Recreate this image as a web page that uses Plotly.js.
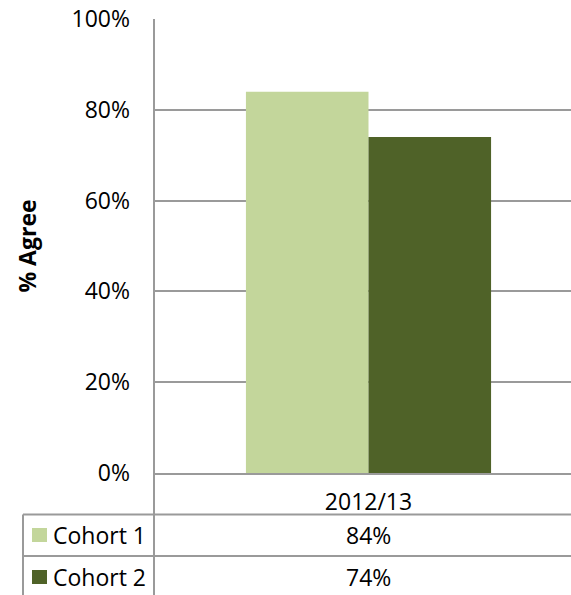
<!DOCTYPE html>
<html>
<head>
<meta charset="utf-8">
<script src="https://cdn.plot.ly/plotly-3.0.1.min.js"></script>
<style>html,body{margin:0;padding:0;background:#fff;}#chart{width:571px;height:595px;}</style>
</head>
<body>
<div id="chart"></div>
<script>
// Data
const categories = ['2012/13'];
const seriesNames = ['Cohort 1', 'Cohort 2'];
const cohort1 = [0.84];
const cohort2 = [0.74];
const seriesValues = [cohort1, cohort2];
const seriesColors = ['#C3D69B', '#4F6228'];
const yTickVals = [0, 0.2, 0.4, 0.6, 0.8, 1.0];
const yTickText = ['0%', '20%', '40%', '60%', '80%', '100%'];

// Layout geometry (pixels)
const W = 571, H = 595;
const L = 154, T = 19, B = 122;
const plotW = W - L, plotH = H - T - B;
const px = x => (x - L) / plotW;
const py = y => (H - B - y) / plotH;
const FONT = 'Open Sans, Liberation Sans, sans-serif';
const FS = 23;
const GRID = '#9a9a9a';

const barW = 0.2857;
const traces = seriesNames.map((name, i) => ({
  type: 'bar',
  name: name,
  x: categories,
  y: seriesValues[i],
  width: categories.map(() => barW),
  offset: categories.map(() => (i === 0 ? -barW : 0)),
  marker: {color: seriesColors[i], line: {width: 0}},
  hoverinfo: 'none'
}));

const shapes = [];
const annotations = [];
const lineStyle = {color: GRID, width: 2};
// table horizontal lines
const rowLines = [514.5, 556];
rowLines.forEach(y => shapes.push({type: 'line', xref: 'paper', yref: 'paper', x0: px(23), x1: px(W + 5), y0: py(y), y1: py(y), line: lineStyle}));
// vertical lines
shapes.push({type: 'line', xref: 'paper', yref: 'paper', x0: px(23), x1: px(23), y0: py(514.5), y1: py(H + 5), line: lineStyle});
shapes.push({type: 'line', xref: 'paper', yref: 'paper', x0: 0, x1: 0, y0: 1, y1: py(H + 5), line: lineStyle});

const rowCenters = [535, 577];
seriesNames.forEach((name, i) => {
  const yc = rowCenters[i];
  shapes.push({type: 'rect', xref: 'paper', yref: 'paper', x0: px(32), x1: px(47), y0: py(yc - 7), y1: py(yc + 7), fillcolor: seriesColors[i], line: {width: 0}});
  annotations.push({xref: 'paper', yref: 'paper', x: px(51), y: py(yc), xanchor: 'left', yanchor: 'middle', text: name, showarrow: false, font: {family: FONT, size: FS, color: '#000'}});
  categories.forEach((c, j) => {
    annotations.push({xref: 'x', yref: 'paper', x: c, y: py(yc), xanchor: 'center', yanchor: 'middle', text: Math.round(seriesValues[i][j] * 100) + '%', showarrow: false, font: {family: FONT, size: FS, color: '#000'}});
  });
});

const layout = {
  width: W, height: H,
  margin: {l: L, r: 0, t: T, b: B, pad: 0},
  paper_bgcolor: '#fff', plot_bgcolor: '#fff',
  showlegend: false,
  barmode: 'group',
  font: {family: FONT, size: FS, color: '#000'},
  xaxis: {
    type: 'category',
    range: [-0.5, 0.5 - 12 / 429],
    showgrid: false,
    showline: true, linecolor: GRID, linewidth: 2,
    ticks: '',
    ticklabelstandoff: 7,
    tickfont: {family: FONT, size: FS, color: '#000'},
    fixedrange: true
  },
  yaxis: {
    range: [0, 1],
    tickvals: yTickVals,
    ticktext: yTickText,
    showgrid: true, gridcolor: GRID, gridwidth: 2,
    showline: false,
    zeroline: false,
    ticks: '',
    ticklabelstandoff: 23,
    tickfont: {family: FONT, size: FS, color: '#000'},
    title: {text: '<b>% Agree</b>', standoff: 28, font: {family: FONT, size: FS, color: '#000'}},
    automargin: false,
    fixedrange: true
  },
  shapes: shapes,
  annotations: annotations
};

Plotly.newPlot('chart', traces, layout, {displayModeBar: false, staticPlot: true});
</script>
</body>
</html>
